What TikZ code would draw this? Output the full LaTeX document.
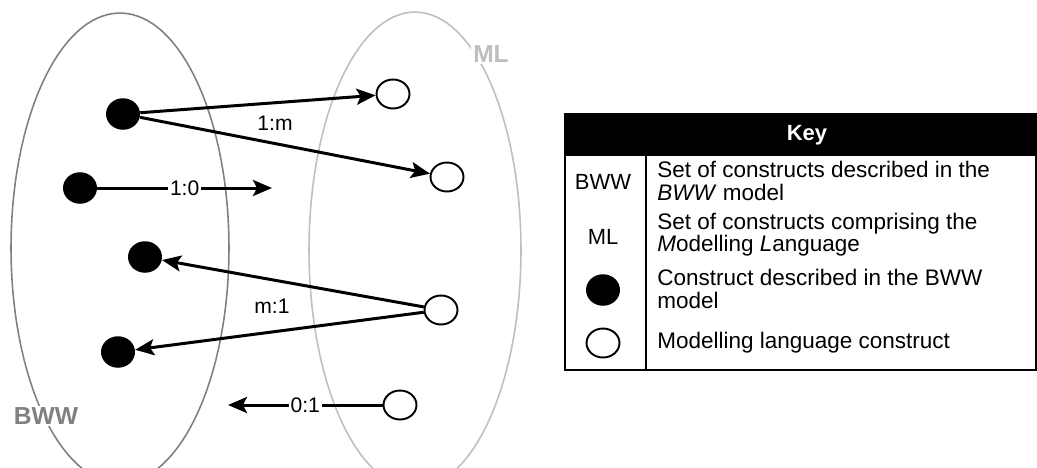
\documentclass[tikz,border=0pt]{standalone}
\usepackage{fontspec}
\setmainfont{Liberation Sans}
\usetikzlibrary{arrows.meta,positioning,shapes.geometric}

\begin{document}
\begin{tikzpicture}[x=0.02cm,y=-0.02cm,
    bdot/.style={ellipse,fill=black,inner sep=0pt,minimum width=0.68cm,minimum height=0.63cm},
    wdot/.style={ellipse,draw,line width=1.1pt,fill=white,inner sep=0pt,minimum width=0.66cm,minimum height=0.58cm},
    link/.style={line width=1.7pt,-{Stealth[length=0.38cm,width=0.32cm,inset=0.08cm]}},
    ratio/.style={font=\fontsize{12}{14}\selectfont},
    keytext/.style={anchor=west,align=left,inner sep=0pt,font=\fontsize{12.8}{12.6}\selectfont}]
      \useasboundingbox (0,0) rectangle (1037,467);
      \begin{scope}
        \clip (0,0) rectangle (1037,467);
        \draw[line width=0.9pt,black!50] (120,248) ellipse (2.18cm and 4.7cm);
        \draw[line width=0.9pt,black!25] (415,250) ellipse (2.12cm and 4.76cm);
      \end{scope}
      \node[fill=white,inner sep=1pt,text=black!25,font=\fontsize{14}{16}\selectfont\bfseries] (ml) at (491,54) {ML};
      \node[fill=white,inner sep=1pt,text=black!50,font=\fontsize{14}{16}\selectfont\bfseries] (bww) at (46,416) {BWW};
      \node[bdot] (b1) at (123,114) {};
      \node[bdot] (b2) at (80,188) {};
      \node[bdot] (b3) at (145,257) {};
      \node[bdot] (b4) at (118,352) {};
      \node[wdot] (w1) at (393,94) {};
      \node[wdot] (w2) at (447,177) {};
      \node[wdot] (w3) at (441,310) {};
      \node[wdot] (w4) at (400,405) {};
      \coordinate (e2) at (272,188);
      \coordinate (e4) at (228,405);
      \draw[link] (b1) -- (w1);
      \draw[link] (b1) -- (w2);
      \node[ratio] (r1) at (275,123) {1:m};
      \draw[link] (b2) -- node[ratio,fill=white,inner sep=1pt] (r2) {1:0} (e2);
      \draw[link] (w3) -- (b3);
      \draw[link] (w3) -- (b4);
      \node[ratio] (r3) at (272,306) {m:1};
      \draw[link] (w4) -- node[ratio,fill=white,inner sep=1pt] (r4) {0:1} (e4);
      \fill (565,114) rectangle (1036,156);
      \draw[line width=0.9pt] (565,114) rectangle (1036,370);
      \draw[line width=0.9pt] (646,156) -- (646,370);
      \node[text=white,font=\fontsize{12.5}{14}\selectfont\bfseries] (key) at (807,135) {Key};
      \node[font=\fontsize{12.5}{14}\selectfont] (kb) at (603,182) {BWW};
      \node[font=\fontsize{12.5}{14}\selectfont] (km) at (603,237) {ML};
      \node[bdot] (kd) at (603,290) {};
      \node[wdot] (kw) at (603,343) {};
      \node[keytext] (t1) at (657,181) {Set of constructs described in the\\\textit{BWW} model};
      \node[keytext] (t2) at (657,235) {Set of constructs comprising the\\\textit{M}odelling \textit{L}anguage};
      \node[keytext] (t3) at (657,289) {Construct described in the BWW\\model};
      \node[keytext] (t4) at (657,343) {Modelling language construct};
\end{tikzpicture}
\end{document}
